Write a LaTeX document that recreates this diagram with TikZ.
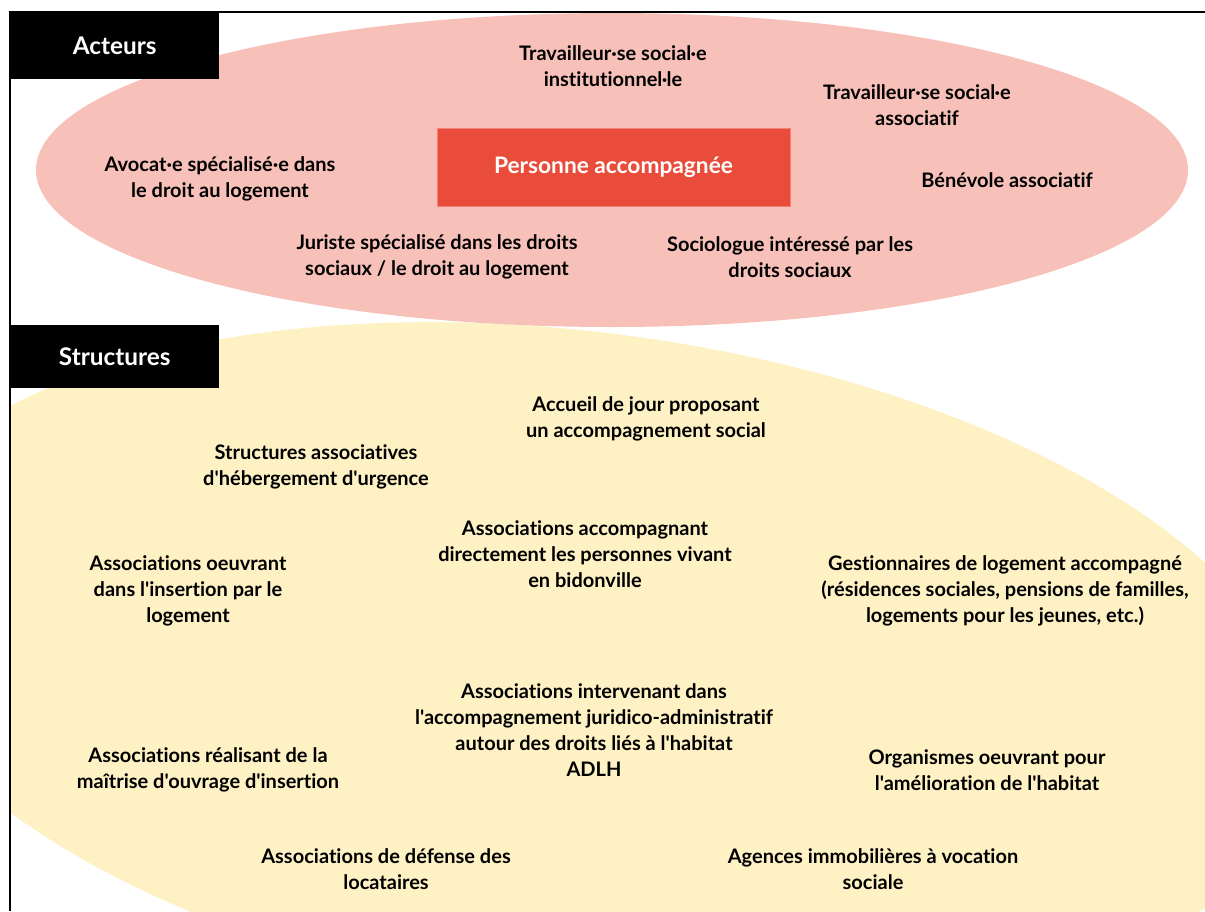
\documentclass[tikz,border=0pt]{standalone}
\usepackage{fontspec}
\setmainfont{Lato}[Ligatures={TeXOff,NoCommon}]
\definecolor{pinkfill}{HTML}{F7C0B9}
\definecolor{redbox}{HTML}{E94C3A}
\definecolor{yellowfill}{HTML}{FEF1C4}
\begin{document}
\begin{tikzpicture}[x=1pt,y=-1pt,
  txt/.style={align=center, font=\bfseries\fontsize{20}{26}\selectfont, inner sep=0pt, text=black},
  hdrbox/.style={fill=black, text=white, font=\bfseries\fontsize{24.3}{26}\selectfont, inner sep=0pt, anchor=north west, minimum width=209pt, minimum height=67pt},
  mainbox/.style={fill=redbox, draw=redbox!70!white, line width=0.6pt, text=white, font=\bfseries\fontsize{22.7}{26}\selectfont, inner sep=0pt, minimum width=353pt, minimum height=78pt},
  frameline/.style={line width=2pt, draw=black}]
\useasboundingbox (0,0) rectangle (1205,911);
\begin{scope}
  \clip (10,12) rectangle (1205,911);
  \fill[yellowfill] (586,670) ellipse [x radius=724, y radius=337, rotate=-7.7];
  \fill[pinkfill] (612,170) ellipse [x radius=576, y radius=157];
\end{scope}
\coordinate (tl) at (10,12);
\coordinate (tr) at (1205,12);
\coordinate (bl) at (10,911);
\draw[frameline] (tr) -- (tl) -- (bl);
\node[hdrbox] (acteurs) at (10,12) {Acteurs};
\node[hdrbox, minimum height=63pt] (structures) at (10,325) {Structures};
\node[mainbox] (personne) at (613.5,167) {Personne accompagnée};
% Acteurs
\node[txt] (ts1) at (613,66) {Travailleur·se social·e\\institutionnel·le};
\node[txt] (ts2) at (917,105) {Travailleur·se social·e\\associatif};
\node[txt] (avocat) at (220,179) {Avocat·e spécialisé·e dans\\le droit au logement};
\node[txt] (benevole) at (1007,180) {Bénévole associatif};
\node[txt] (juriste) at (437,257) {Juriste spécialisé dans les droits\\sociaux / le droit au logement};
\node[txt] (socio) at (790,257) {Sociologue intéressé par les\\droits sociaux};
% Structures
\node[txt] (accueil) at (646,419) {Accueil de jour proposant\\un accompagnement social};
\node[txt] (hebergement) at (316,467) {Structures associatives\\d'hébergement d'urgence};
\node[txt] (bidonville) at (585,554) {Associations accompagnant\\directement les personnes vivant\\en bidonville};
\node[txt] (insertion) at (188,591) {Associations oeuvrant\\dans l'insertion par le\\logement};
\node[txt] (gestion) at (1005,591) {Gestionnaires de logement accompagné\\(résidences sociales, pensions de familles,\\logements pour les jeunes, etc.)};
\node[txt] (adlh) at (594,730) {Associations intervenant dans\\l'accompagnement juridico-administratif\\autour des droits liés à l'habitat\\ADLH};
\node[txt] (moi) at (208,770) {Associations réalisant de la\\maîtrise d'ouvrage d'insertion};
\node[txt] (amelioration) at (987,770) {Organismes oeuvrant pour\\l'amélioration de l'habitat};
\node[txt] (locataires) at (386,869) {Associations de défense des\\locataires};
\node[txt] (agences) at (873,869) {Agences immobilières à vocation\\sociale};
\end{tikzpicture}
\end{document}
